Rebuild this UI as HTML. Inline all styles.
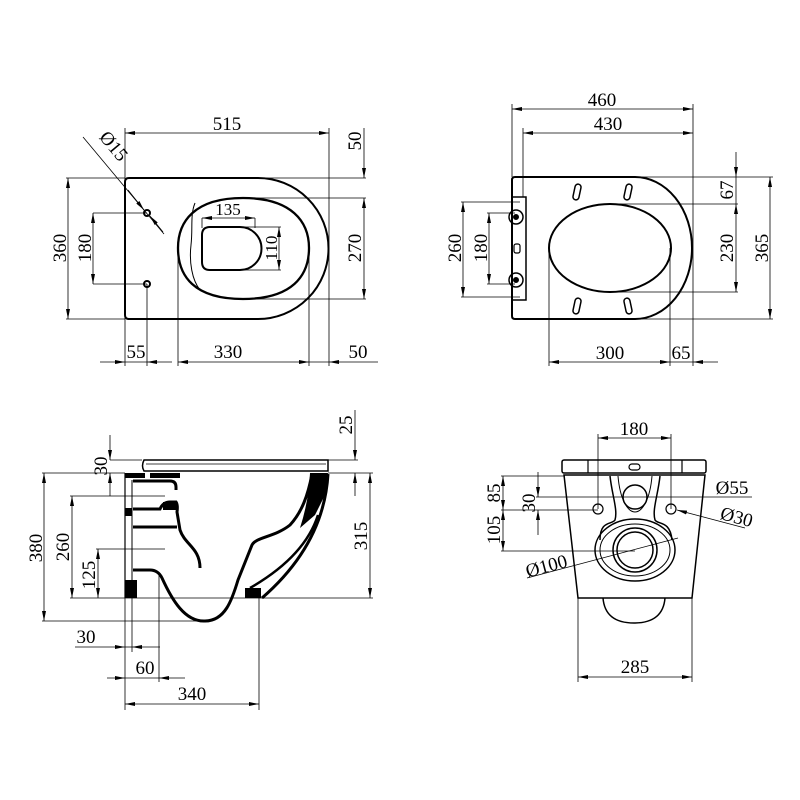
<!DOCTYPE html>
<html><head><meta charset="utf-8"><style>html,body{margin:0;padding:0;background:#fff}svg{display:block}</style></head>
<body>
<svg width="800" height="800" viewBox="0 0 800 800" xmlns="http://www.w3.org/2000/svg" font-family="'Liberation Serif',serif" font-size="19" fill="none" stroke="#000">
<defs>
<marker id="a" viewBox="0 0 10 4" refX="10" refY="2" markerWidth="10" markerHeight="4" markerUnits="userSpaceOnUse" orient="auto-start-reverse"><path d="M0,0L10,2L0,4z" fill="#000" stroke="none"/></marker>
</defs>
<g stroke-width="0.8">
<line x1="125" y1="133" x2="329" y2="133" marker-start="url(#a)" marker-end="url(#a)"/>
<line x1="125" y1="128" x2="125" y2="366"/><line x1="329" y1="128" x2="329" y2="366"/>
<line x1="364" y1="128" x2="364" y2="178" marker-end="url(#a)"/>
<line x1="364" y1="198" x2="364" y2="299" marker-start="url(#a)" marker-end="url(#a)"/>
<line x1="260" y1="178" x2="366" y2="178"/><line x1="243" y1="198" x2="366" y2="198"/><line x1="243" y1="299" x2="366" y2="299"/>
<line x1="68" y1="178" x2="68" y2="319" marker-start="url(#a)" marker-end="url(#a)"/>
<line x1="66" y1="178" x2="125" y2="178"/><line x1="66" y1="319" x2="125" y2="319"/>
<line x1="93" y1="213" x2="93" y2="284" marker-start="url(#a)" marker-end="url(#a)"/>
<line x1="93" y1="213" x2="147" y2="213"/><line x1="93" y1="284" x2="147" y2="284"/>
<line x1="147" y1="284" x2="147" y2="366"/><line x1="178" y1="248" x2="178" y2="366"/><line x1="309" y1="248" x2="309" y2="366"/>
<line x1="100" y1="362" x2="125" y2="362" marker-end="url(#a)"/><line x1="172" y1="362" x2="147" y2="362" marker-end="url(#a)"/><line x1="125" y1="362" x2="147" y2="362"/>
<line x1="178" y1="362" x2="309" y2="362" marker-start="url(#a)" marker-end="url(#a)"/>
<line x1="309" y1="362" x2="329" y2="362"/><line x1="378" y1="362" x2="329" y2="362" marker-end="url(#a)"/>
<line x1="83" y1="137" x2="164" y2="234"/>
<line x1="128" y1="190" x2="144" y2="210" marker-end="url(#a)"/><line x1="163" y1="232" x2="150" y2="216" marker-end="url(#a)"/>
<line x1="202" y1="218" x2="255" y2="218" marker-start="url(#a)" marker-end="url(#a)"/>
<line x1="202" y1="218" x2="202" y2="228"/><line x1="255" y1="218" x2="255" y2="228"/>
<line x1="279" y1="227" x2="279" y2="270" marker-start="url(#a)" marker-end="url(#a)"/>
<line x1="240" y1="227" x2="281" y2="227"/><line x1="240" y1="270" x2="281" y2="270"/>
<line x1="512" y1="109" x2="693" y2="109" marker-start="url(#a)" marker-end="url(#a)"/>
<line x1="523" y1="133" x2="693" y2="133" marker-start="url(#a)" marker-end="url(#a)"/>
<line x1="512" y1="104" x2="512" y2="177"/><line x1="523" y1="128" x2="523" y2="197"/><line x1="693" y1="104" x2="693" y2="366"/>
<line x1="736" y1="152" x2="736" y2="177" marker-end="url(#a)"/>
<line x1="736" y1="204" x2="736" y2="292" marker-start="url(#a)" marker-end="url(#a)"/>
<line x1="736" y1="177" x2="736" y2="204"/>
<line x1="770" y1="177" x2="770" y2="319" marker-start="url(#a)" marker-end="url(#a)"/>
<line x1="630" y1="177" x2="773" y2="177"/><line x1="610" y1="204" x2="738" y2="204"/><line x1="610" y1="292" x2="738" y2="292"/><line x1="630" y1="319" x2="773" y2="319"/>
<line x1="463" y1="202" x2="463" y2="297" marker-start="url(#a)" marker-end="url(#a)"/>
<line x1="461" y1="202" x2="520" y2="202"/><line x1="461" y1="297" x2="520" y2="297"/>
<line x1="489" y1="213" x2="489" y2="284" marker-start="url(#a)" marker-end="url(#a)"/>
<line x1="487" y1="213" x2="515" y2="213"/><line x1="487" y1="284" x2="515" y2="284"/>
<line x1="549" y1="250" x2="549" y2="366"/><line x1="670" y1="248" x2="670" y2="366"/>
<line x1="549" y1="362" x2="670" y2="362" marker-start="url(#a)" marker-end="url(#a)"/>
<line x1="670" y1="362" x2="693" y2="362"/><line x1="718" y1="362" x2="693" y2="362" marker-end="url(#a)"/>
<line x1="110" y1="435" x2="110" y2="460" marker-end="url(#a)"/>
<line x1="110" y1="496" x2="110" y2="473" marker-end="url(#a)"/>
<line x1="110" y1="460" x2="142" y2="460"/><line x1="42" y1="473" x2="125" y2="473"/>
<line x1="355" y1="410" x2="355" y2="460" marker-end="url(#a)"/>
<line x1="355" y1="496" x2="355" y2="473" marker-end="url(#a)"/>
<line x1="328" y1="460" x2="358" y2="460"/><line x1="328" y1="473" x2="373" y2="473"/>
<line x1="44" y1="473" x2="44" y2="621" marker-start="url(#a)" marker-end="url(#a)"/>
<line x1="42" y1="621" x2="210" y2="621"/>
<line x1="370" y1="473" x2="370" y2="598" marker-start="url(#a)" marker-end="url(#a)"/>
<line x1="72" y1="496" x2="72" y2="598" marker-start="url(#a)" marker-end="url(#a)"/>
<line x1="70" y1="496" x2="165" y2="496"/>
<line x1="98" y1="549" x2="98" y2="598" marker-start="url(#a)" marker-end="url(#a)"/>
<line x1="96" y1="549" x2="165" y2="549"/>
<line x1="70" y1="598" x2="373" y2="598"/>
<line x1="125" y1="598" x2="125" y2="710"/><line x1="132" y1="598" x2="132" y2="652"/><line x1="159" y1="575" x2="159" y2="682"/><line x1="259" y1="598" x2="259" y2="710"/>
<line x1="75" y1="647" x2="125" y2="647" marker-end="url(#a)"/><line x1="160" y1="647" x2="132" y2="647" marker-end="url(#a)"/><line x1="125" y1="647" x2="132" y2="647"/>
<line x1="107" y1="678" x2="125" y2="678" marker-end="url(#a)"/><line x1="185" y1="678" x2="159" y2="678" marker-end="url(#a)"/><line x1="125" y1="678" x2="159" y2="678"/>
<line x1="125" y1="704" x2="259" y2="704" marker-start="url(#a)" marker-end="url(#a)"/>
<line x1="598" y1="438" x2="671" y2="438" marker-start="url(#a)" marker-end="url(#a)"/>
<line x1="598" y1="434" x2="598" y2="509"/><line x1="671" y1="434" x2="671" y2="509"/>
<line x1="503" y1="476" x2="503" y2="510" marker-start="url(#a)" marker-end="url(#a)"/>
<line x1="503" y1="510" x2="503" y2="551" marker-start="url(#a)" marker-end="url(#a)"/>
<line x1="501" y1="476" x2="565" y2="476"/><line x1="501" y1="510" x2="598" y2="510"/><line x1="501" y1="551" x2="635" y2="551"/>
<line x1="538" y1="472" x2="538" y2="497" marker-end="url(#a)"/><line x1="538" y1="535" x2="538" y2="510" marker-end="url(#a)"/>
<line x1="536" y1="497" x2="752" y2="497"/>
<line x1="745" y1="528" x2="677" y2="510" marker-end="url(#a)"/>
<line x1="527" y1="578" x2="678" y2="538"/>
<line x1="578" y1="598" x2="578" y2="682"/><line x1="692" y1="598" x2="692" y2="682"/>
<line x1="578" y1="677" x2="692" y2="677" marker-start="url(#a)" marker-end="url(#a)"/>
</g>
<g stroke-width="2">
<path d="M129,178 H258 A70.5,70.5 0 0 1 258,319 H129 Q125,319 125,315 V182 Q125,178 129,178Z"/>
<path d="M243,198 C292,198 309,222 309,248 C309,276 292,299 243,299 C194,299 178,276 178,248 C178,222 194,198 243,198Z" stroke-width="2.3"/>
<path d="M195,203 C190,215 193,228 191,245 C189,262 192,280 200,290" stroke-width="1"/>
<path d="M210,227 H240 A21.5,21.5 0 0 1 240,270 H210 Q202,270 202,262 V235 Q202,227 210,227Z"/>
<circle cx="147" cy="213" r="3"/><circle cx="147" cy="284" r="3"/>
<path d="M515,177 H635 A57,71 0 0 1 635,319 H515 Q512,319 512,316 V180 Q512,177 515,177Z"/>
<ellipse cx="610" cy="248" rx="61" ry="44"/>
<rect x="512" y="197" width="14" height="103" stroke-width="1.5"/>
<circle cx="516" cy="217" r="7" stroke-width="1.5"/><circle cx="516" cy="280" r="7" stroke-width="1.5"/>
<circle cx="516" cy="217" r="2" fill="#000"/><circle cx="516" cy="280" r="2" fill="#000"/>
<rect x="514" y="244" width="6" height="9" rx="2" stroke-width="1.2"/>
<rect x="-3" y="-8" width="6" height="16" rx="3" transform="translate(577,192) rotate(12)" stroke-width="1.5"/>
<rect x="-3" y="-8" width="6" height="16" rx="3" transform="translate(628,192) rotate(12)" stroke-width="1.5"/>
<rect x="-3" y="-8" width="6" height="16" rx="3" transform="translate(577,306) rotate(12)" stroke-width="1.5"/>
<rect x="-3" y="-8" width="6" height="16" rx="3" transform="translate(628,306) rotate(-12)" stroke-width="1.5"/>
<path d="M144,460 H328 V471 H144 Q141,466 144,460Z" stroke-width="1.5"/>
<line x1="146" y1="464" x2="326" y2="464" stroke-width="0.8"/>
<line x1="125" y1="473" x2="125" y2="598" stroke-width="1.2"/><line x1="132" y1="480" x2="132" y2="598" stroke-width="1"/>
<rect x="125" y="473" width="20" height="5" fill="#000" stroke="none"/>
<rect x="150" y="473" width="30" height="5" fill="#000" stroke="none"/>
<path d="M133,481 H170 Q176,481 176,487 V490" stroke-width="3"/>
<path d="M133,509 H160 Q163,502 170,502 H176 Q178,505 177,512 L180,530 C185,545 200,548 200,568" stroke-width="3"/>
<path d="M133,527 H177" stroke-width="3"/>
<rect x="163" y="502" width="13" height="8" fill="#000" stroke="none"/>
<rect x="125" y="508" width="7" height="8" fill="#000" stroke="none"/>
<rect x="125" y="580" width="12" height="18" fill="#000" stroke="none"/>
<rect x="245" y="588" width="16" height="10" fill="#000" stroke="none"/>
<path d="M133,570 H150 Q158,570 162,578 C172,600 185,622 205,621 C225,621 232,600 238,580 L252,545 C256,537 275,537 290,525 C302,512 308,495 312,474" stroke-width="3"/>
<path d="M328,474 C325,525 300,565 262,598" stroke-width="3"/>
<path d="M310,473 H328 L325,495 L315,515 L300,528 Q309,500 310,473Z" fill="#000" stroke="none"/>
<path d="M318,515 C310,540 290,565 250,588" stroke-width="2.5"/>
<rect x="562" y="460" width="144" height="13" rx="2" stroke-width="1.5"/>
<line x1="588" y1="460" x2="588" y2="473" stroke-width="1.2"/><line x1="682" y1="460" x2="682" y2="473" stroke-width="1.2"/>
<rect x="629" y="464" width="11" height="6" rx="3" stroke-width="1.2"/>
<path d="M564,475 H705 L692,598 H578 Z" stroke-width="1.5"/>
<path d="M603,598 Q605,623 634,623 Q663,623 665,598" stroke-width="1.5"/>
<circle cx="635" cy="497" r="12" stroke-width="1.5"/>
<circle cx="598" cy="509" r="5" stroke-width="1.2"/><circle cx="671" cy="509" r="5" stroke-width="1.2"/>
<path d="M610,476 C612,495 618,510 615,520 C612,525 600,520 600,540" stroke-width="1.5"/>
<path d="M660,476 C658,495 652,510 655,520 C658,525 670,520 672,540" stroke-width="1.5"/>
<path d="M618,476 C620,500 628,512 635,512 C642,512 650,500 652,476" stroke-width="1"/>
<ellipse cx="635" cy="550" rx="40" ry="31" stroke-width="1.5"/>
<ellipse cx="635" cy="550" rx="35" ry="26" stroke-width="1"/>
<circle cx="635" cy="550" r="22" stroke-width="1.5"/>
<circle cx="635" cy="550" r="18" stroke-width="1.5"/>
</g>
<g fill="#000" stroke="none" text-anchor="middle">
<text x="227" y="130">515</text>
<text x="228" y="358">330</text>
<text x="136" y="358">55</text>
<text x="358" y="358">50</text>
<text x="228" y="215" font-size="17">135</text>
<text transform="translate(361,141) rotate(-90)">50</text>
<text transform="translate(361,248) rotate(-90)">270</text>
<text transform="translate(66,248) rotate(-90)">360</text>
<text transform="translate(91,248) rotate(-90)">180</text>
<text transform="translate(277,248) rotate(-90)" font-size="17">110</text>
<text transform="translate(109,150) rotate(50)">Ø15</text>
<text x="602" y="106">460</text>
<text x="608" y="130">430</text>
<text x="610" y="359">300</text>
<text x="681" y="359">65</text>
<text transform="translate(733,190) rotate(-90)">67</text>
<text transform="translate(733,248) rotate(-90)">230</text>
<text transform="translate(768,248) rotate(-90)">365</text>
<text transform="translate(461,248) rotate(-90)">260</text>
<text transform="translate(487,248) rotate(-90)">180</text>
<text transform="translate(107,466) rotate(-90)">30</text>
<text transform="translate(352,425) rotate(-90)">25</text>
<text transform="translate(42,548) rotate(-90)">380</text>
<text transform="translate(69,547) rotate(-90)">260</text>
<text transform="translate(95,575) rotate(-90)">125</text>
<text transform="translate(367,536) rotate(-90)">315</text>
<text x="86" y="643">30</text>
<text x="145" y="674">60</text>
<text x="192" y="700">340</text>
<text x="634" y="435">180</text>
<text transform="translate(500,493) rotate(-90)">85</text>
<text transform="translate(500,530) rotate(-90)">105</text>
<text transform="translate(535,503) rotate(-90)">30</text>
<text x="732" y="494">Ø55</text>
<text transform="translate(735,523) rotate(15)">Ø30</text>
<text transform="translate(548,572) rotate(-15)">Ø100</text>
<text x="635" y="673">285</text>
</g>
</svg>
</body></html>
